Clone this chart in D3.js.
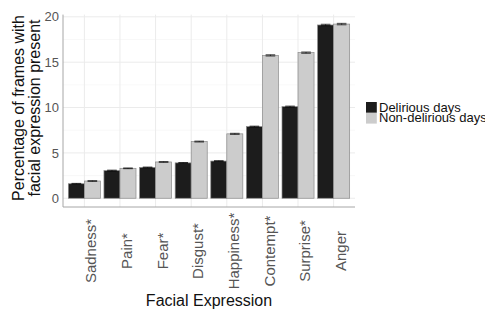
<!DOCTYPE html>
<html>
<head>
<meta charset="utf-8">
<script src="https://cdn.jsdelivr.net/npm/d3@7"></script>
<style>
  body { margin: 0; background: #fff; }
  text { font-family: "Liberation Sans", Arial, sans-serif; }
</style>
</head>
<body>
<div id="chart"></div>
<script>
var categories = ["Sadness*", "Pain*", "Fear*", "Disgust*", "Happiness*", "Contempt*", "Surprise*", "Anger"];
var seriesNames = ["Delirious days", "Non-delirious days"];
var delirious = [1.6, 3.05, 3.4, 3.9, 4.1, 7.9, 10.1, 19.1];
var nonDelirious = [1.9, 3.3, 4.0, 6.25, 7.1, 15.75, 16.05, 19.2];
var deliriousErr = [0.04, 0.05, 0.04, 0.04, 0.05, 0.05, 0.06, 0.08];
var nonDeliriousErr = [0.04, 0.04, 0.04, 0.05, 0.06, 0.07, 0.07, 0.08];
var yTicks = [0, 5, 10, 15, 20];
var yMinor = [2.5, 7.5, 12.5, 17.5];

function chart() {
    var w = 485;
    var h = 314;
    var left = 63, right = 355, top = 14.6, bottom = 207;
    var colors = ["#1c1c1c", "#cccccc"];

    var rows = categories.map(function (c, i) {
        return {
            cat: c,
            vals: [
                { s: 0, v: delirious[i], e: deliriousErr[i] },
                { s: 1, v: nonDelirious[i], e: nonDeliriousErr[i] }
            ]
        };
    });

    var yMax = d3.max(rows, function (r) {
        return d3.max(r.vals, function (d) { return d.v + d.e; });
    });

    var svg = d3.select("#chart")
        .append("svg")
        .attr("width", w)
        .attr("height", h);

    var x0 = d3.scaleBand()
        .domain(categories)
        .range([left, right])
        .paddingInner(0.1)
        .paddingOuter(0.15);

    var x1 = d3.scaleBand()
        .domain([0, 1])
        .range([0, x0.bandwidth()]);

    var y = d3.scaleLinear()
        .domain([-0.05 * yMax, yMax * 1.05])
        .range([bottom, top]);

    // grid
    svg.append("g").selectAll("line.minor")
        .data(yMinor)
        .enter()
        .append("line")
        .attr("x1", left).attr("x2", right)
        .attr("y1", function (d) { return y(d); })
        .attr("y2", function (d) { return y(d); })
        .attr("stroke", "#f3f3f3")
        .attr("stroke-width", 0.6);

    svg.append("g").selectAll("line.major")
        .data(yTicks)
        .enter()
        .append("line")
        .attr("x1", left).attr("x2", right)
        .attr("y1", function (d) { return y(d); })
        .attr("y2", function (d) { return y(d); })
        .attr("stroke", "#ebebeb")
        .attr("stroke-width", 1);

    svg.append("g").selectAll("line.vgrid")
        .data(categories)
        .enter()
        .append("line")
        .attr("x1", function (d) { return x0(d) + x0.bandwidth() / 2; })
        .attr("x2", function (d) { return x0(d) + x0.bandwidth() / 2; })
        .attr("y1", top).attr("y2", bottom)
        .attr("stroke", "#ebebeb")
        .attr("stroke-width", 1);

    // bars
    var groups = svg.append("g").selectAll("g")
        .data(rows)
        .enter()
        .append("g")
        .attr("transform", function (d) { return "translate(" + x0(d.cat) + ",0)"; });

    groups.selectAll("rect")
        .data(function (d) { return d.vals; })
        .enter()
        .append("rect")
        .attr("x", function (d) { return x1(d.s); })
        .attr("y", function (d) { return y(d.v); })
        .attr("width", x1.bandwidth())
        .attr("height", function (d) { return y(0) - y(d.v); })
        .attr("fill", function (d) { return colors[d.s]; })
        .attr("stroke", "#8a8a8a")
        .attr("stroke-width", 0.7);

    // error bars
    var eb = groups.selectAll("g.err")
        .data(function (d) { return d.vals; })
        .enter()
        .append("g");
    var cap = x1.bandwidth() * 0.3;
    eb.append("line")
        .attr("x1", function (d) { return x1(d.s) + x1.bandwidth() / 2; })
        .attr("x2", function (d) { return x1(d.s) + x1.bandwidth() / 2; })
        .attr("y1", function (d) { return y(d.v - d.e); })
        .attr("y2", function (d) { return y(d.v + d.e); })
        .attr("stroke", "#000").attr("stroke-width", 0.6);
    eb.append("line")
        .attr("x1", function (d) { return x1(d.s) + x1.bandwidth() / 2 - cap; })
        .attr("x2", function (d) { return x1(d.s) + x1.bandwidth() / 2 + cap; })
        .attr("y1", function (d) { return y(d.v + d.e); })
        .attr("y2", function (d) { return y(d.v + d.e); })
        .attr("stroke", "#000").attr("stroke-width", 0.7);
    eb.append("line")
        .attr("x1", function (d) { return x1(d.s) + x1.bandwidth() / 2 - cap; })
        .attr("x2", function (d) { return x1(d.s) + x1.bandwidth() / 2 + cap; })
        .attr("y1", function (d) { return y(d.v - d.e); })
        .attr("y2", function (d) { return y(d.v - d.e); })
        .attr("stroke", "#000").attr("stroke-width", 0.7);

    // axes
    var yAxis = svg.append("g")
        .attr("transform", "translate(" + left + ",0)")
        .call(d3.axisLeft(y).tickValues(yTicks).tickSize(0).tickPadding(4));
    yAxis.select(".domain").remove();
    yAxis.selectAll("text")
        .attr("fill", "#555")
        .style("font-size", "13px")
        .style("font-family", "Liberation Sans, Arial, sans-serif");

    svg.append("line")
        .attr("x1", left).attr("x2", left)
        .attr("y1", top).attr("y2", bottom)
        .attr("stroke", "#a6a6a6").attr("stroke-width", 1);
    svg.append("line")
        .attr("x1", left).attr("x2", right)
        .attr("y1", bottom).attr("y2", bottom)
        .attr("stroke", "#a6a6a6").attr("stroke-width", 1);

    svg.append("g").selectAll("text")
        .data(categories)
        .enter()
        .append("text")
        .attr("transform", function (d) {
            return "translate(" + (x0(d) + x0.bandwidth() / 2 + 1) + ",251) rotate(-90)";
        })
        .attr("text-anchor", "middle")
        .attr("dy", "0.74em")
        .attr("fill", "#555")
        .style("font-size", "15px")
        .text(function (d) { return d; });

    // titles
    svg.append("text")
        .attr("x", (left + right) / 2)
        .attr("y", 306)
        .attr("text-anchor", "middle")
        .attr("fill", "#111")
        .style("font-size", "16px")
        .text("Facial Expression");

    var yt = svg.append("text")
        .attr("transform", "translate(0,108) rotate(-90)")
        .attr("text-anchor", "middle")
        .attr("fill", "#111")
        .style("font-size", "16px");
    yt.append("tspan").attr("x", 0).attr("y", 23.5).text("Percentage of frames with");
    yt.append("tspan").attr("x", 0).attr("y", 39.5).text("facial expression present");

    // legend
    var leg = svg.append("g").selectAll("g")
        .data(seriesNames)
        .enter()
        .append("g")
        .attr("transform", function (d, i) { return "translate(366," + (102 + i * 10.8) + ")"; });
    leg.append("rect")
        .attr("width", 10.8).attr("height", 10.8)
        .attr("fill", function (d, i) { return colors[i]; });
    leg.append("text")
        .attr("x", 13)
        .attr("y", 9.5)
        .attr("fill", "#111")
        .style("font-size", "13px")
        .text(function (d) { return d; });
}

window.onload = chart;
</script>
</body>
</html>
